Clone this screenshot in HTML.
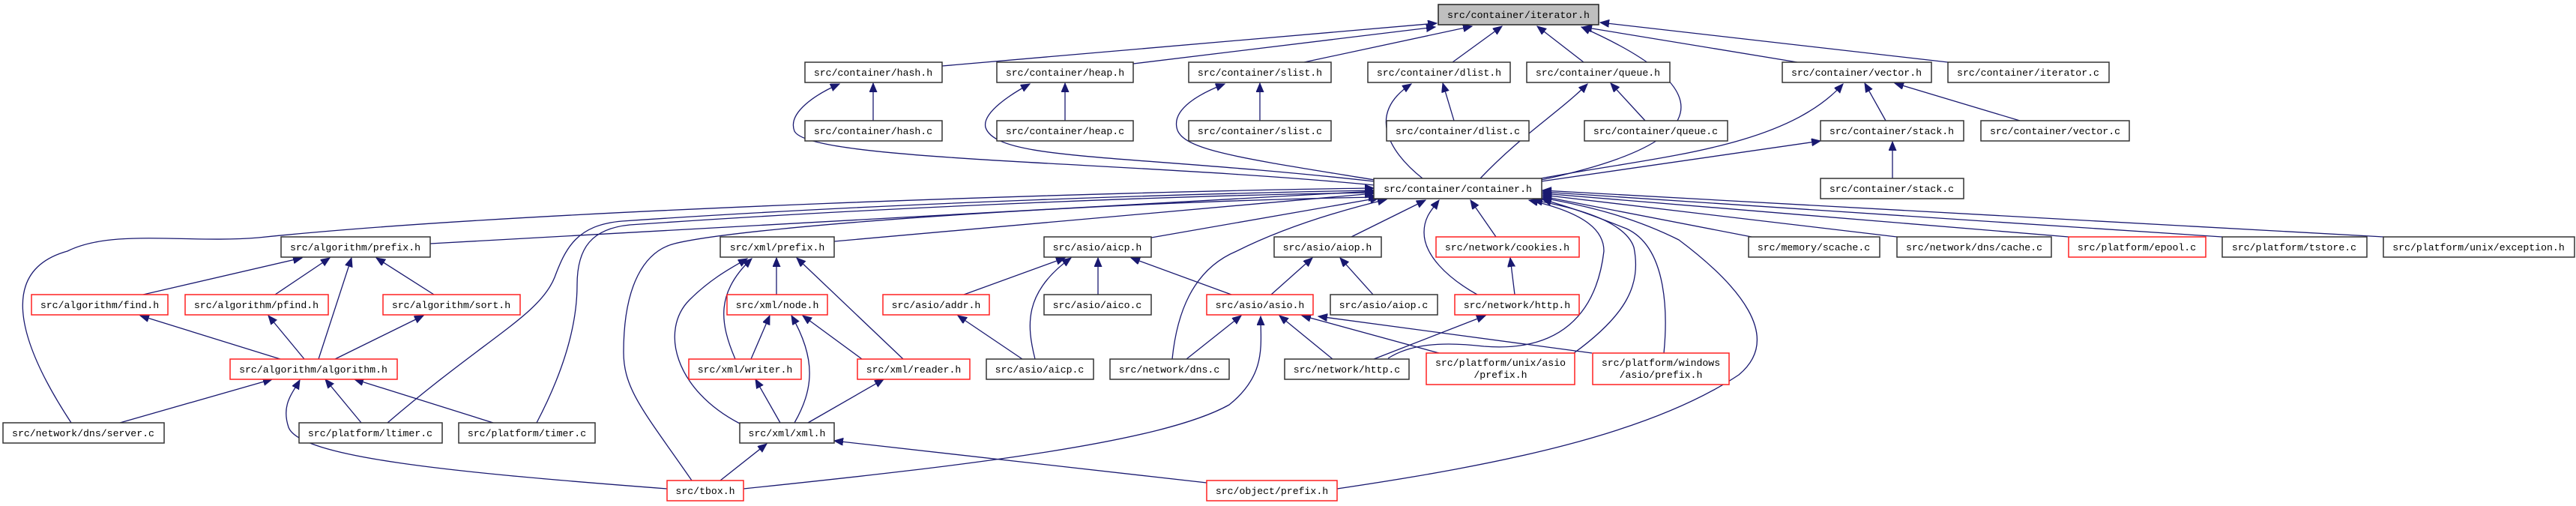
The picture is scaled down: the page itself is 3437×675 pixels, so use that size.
<!DOCTYPE html>
<html><head><meta charset="utf-8"><style>
html,body{margin:0;padding:0;background:#fff;}
svg{display:block;}
text{font-family:"Liberation Mono",monospace;font-size:13.2px;fill:#000;}
.b{fill:#fff;stroke:#333;stroke-width:1.5;}
.r{fill:#fff;stroke:#ff2020;stroke-width:1.5;}
.g{fill:#bfbfbf;stroke:#222;stroke-width:1.5;}
path{fill:none;stroke:#191970;stroke-width:1.3;}
</style></head><body>
<svg width="3437" height="675" viewBox="0 0 3437 675" xmlns="http://www.w3.org/2000/svg">
<defs><marker id="a" markerUnits="userSpaceOnUse" markerWidth="14" markerHeight="12" refX="12" refY="5" orient="auto"><path d="M0,0 L12,5 L0,10 Z" style="fill:#191970;stroke:#191970;stroke-width:1"/></marker></defs>
<g marker-end="url(#a)">
<!-- to iterator.h -->
<path d="M1257,88 L1917,31"/>
<path d="M1512,85 L1915,36"/>
<path d="M1740,83 L1964,35"/>
<path d="M1938,83 L2004,35"/>
<path d="M2113,83 L2051,35"/>
<path d="M2056,240 C2290,190 2300,120 2110,36"/>
<path d="M2398,83 L2112,36"/>
<path d="M2599,83 L2135,30"/>
<!-- row2 to row1 -->
<path d="M1165,161 L1165,111"/>
<path d="M1421,161 L1421,111"/>
<path d="M1681,161 L1681,111"/>
<path d="M1940,161 L1925,111"/>
<path d="M2195,161 L2149,111"/>
<path d="M2516,161 L2488,111"/>
<path d="M2695,161 L2528,111"/>
<path d="M2525,238 L2525,189"/>
<!-- container to row1 -->
<path d="M1834,247 C1500,215 1080,215 1060,175 C1050,150 1090,125 1120,112"/>
<path d="M1834,242 C1500,205 1330,215 1315,170 C1310,150 1350,125 1374,112"/>
<path d="M1834,240 C1650,210 1575,200 1570,170 C1565,145 1600,125 1634,112"/>
<path d="M1898,238 C1850,200 1825,150 1883,112"/>
<path d="M1975,238 C2030,180 2080,150 2118,112"/>
<path d="M2056,238 C2200,210 2380,200 2459,112"/>
<path d="M2056,242 C2250,215 2350,200 2429,188"/>
<!-- into container.h -->
<path d="M574,325 L1833,255"/>
<path d="M95,564 C20,450 0,360 90,335 C150,305 250,325 345,317 C700,280 1500,255 1833,251"/>
<path d="M517,564 C650,450 720,420 740,370 C755,330 770,300 830,295 C1200,270 1600,258 1833,254"/>
<path d="M716,564 C760,480 770,420 770,380 C770,330 790,305 840,300 C1200,275 1600,260 1833,257"/>
<path d="M923,641 C860,550 832,520 832,470 C832,380 860,335 900,325 C1000,300 1500,268 1838,263"/>
<path d="M1113,322 L1833,258"/>
<path d="M1536,317 L1840,264"/>
<path d="M1564,479 C1570,420 1590,360 1650,335 C1720,300 1800,278 1850,266"/>
<path d="M1803,316 L1902,267"/>
<path d="M1971,393 C1930,370 1900,340 1900,310 C1900,290 1910,280 1920,267"/>
<path d="M1996,316 L1962,267"/>
<path d="M1852,478 C1880,460 1920,455 1980,462 C2080,470 2130,420 2140,335 C2140,310 2120,285 2040,267"/>
<path d="M2100,471 C2170,420 2190,380 2180,330 C2170,300 2120,280 2046,267"/>
<path d="M2220,471 C2225,420 2225,330 2170,305 C2120,285 2090,275 2058,266"/>
<path d="M1784,652 C2000,620 2200,580 2320,500 C2380,450 2320,380 2240,320 C2180,290 2120,275 2058,264"/>
<path d="M2337,316 L2058,262"/>
<path d="M2531,316 L2058,260"/>
<path d="M2760,316 L2058,258"/>
<path d="M2965,316 L2058,256"/>
<path d="M3180,316 L2058,254"/>
<!-- algorithm -->
<path d="M191,393 L403,344"/>
<path d="M367,393 L440,344"/>
<path d="M579,393 L502,344"/>
<path d="M425,479 L469,344"/>
<path d="M374,479 L187,421"/>
<path d="M406,479 L358,421"/>
<path d="M447,479 L565,421"/>
<path d="M160,564 L363,506"/>
<path d="M482,564 L434,506"/>
<path d="M658,564 L473,506"/>
<path d="M890,652 C600,630 400,610 385,570 C375,540 390,525 400,507"/>
<!-- xml -->
<path d="M1036,393 L1036,344"/>
<path d="M981,479 C960,430 955,390 1003,345"/>
<path d="M1002,479 L1027,421"/>
<path d="M1205,479 L1063,344"/>
<path d="M1150,479 L1071,421"/>
<path d="M1041,564 L1008,506"/>
<path d="M1060,564 C1085,520 1090,480 1056,421"/>
<path d="M1078,564 L1179,506"/>
<path d="M987,565 C900,520 880,440 920,400 C950,370 980,355 997,345"/>
<path d="M961,641 L1023,592"/>
<path d="M1610,644 L1113,588"/>
<!-- asio -->
<path d="M1286,393 L1421,344"/>
<path d="M1465,393 L1465,344"/>
<path d="M1643,393 L1509,344"/>
<path d="M1381,479 C1370,435 1365,390 1429,344"/>
<path d="M1364,479 L1278,421"/>
<path d="M1583,479 L1656,421"/>
<path d="M1696,393 L1751,344"/>
<path d="M1832,393 L1788,344"/>
<path d="M2021,393 L2015,344"/>
<path d="M1778,479 L1707,421"/>
<path d="M1833,479 L1982,421"/>
<path d="M1920,471 L1737,421"/>
<path d="M2124,471 L1759,422"/>
<path d="M992,652 C1300,620 1550,590 1640,540 C1690,500 1682,460 1682,422"/>
</g>
<!-- nodes -->
<g>
<rect class="g" x="1919" y="6" width="214" height="27"/><text x="2026" y="24" text-anchor="middle">src/container/iterator.h</text>
<rect class="b" x="1074" y="83" width="183" height="27"/><text x="1165" y="101" text-anchor="middle">src/container/hash.h</text>
<rect class="b" x="1330" y="83" width="182" height="27"/><text x="1421" y="101" text-anchor="middle">src/container/heap.h</text>
<rect class="b" x="1586" y="83" width="190" height="27"/><text x="1681" y="101" text-anchor="middle">src/container/slist.h</text>
<rect class="b" x="1825" y="83" width="190" height="27"/><text x="1920" y="101" text-anchor="middle">src/container/dlist.h</text>
<rect class="b" x="2037" y="83" width="191" height="27"/><text x="2132" y="101" text-anchor="middle">src/container/queue.h</text>
<rect class="b" x="2378" y="83" width="199" height="27"/><text x="2477" y="101" text-anchor="middle">src/container/vector.h</text>
<rect class="b" x="2599" y="83" width="215" height="27"/><text x="2706" y="101" text-anchor="middle">src/container/iterator.c</text>
<rect class="b" x="1074" y="161" width="183" height="27"/><text x="1165" y="179" text-anchor="middle">src/container/hash.c</text>
<rect class="b" x="1330" y="161" width="182" height="27"/><text x="1421" y="179" text-anchor="middle">src/container/heap.c</text>
<rect class="b" x="1586" y="161" width="190" height="27"/><text x="1681" y="179" text-anchor="middle">src/container/slist.c</text>
<rect class="b" x="1850" y="161" width="190" height="27"/><text x="1945" y="179" text-anchor="middle">src/container/dlist.c</text>
<rect class="b" x="2114" y="161" width="191" height="27"/><text x="2209" y="179" text-anchor="middle">src/container/queue.c</text>
<rect class="b" x="2429" y="161" width="191" height="27"/><text x="2524" y="179" text-anchor="middle">src/container/stack.h</text>
<rect class="b" x="2643" y="161" width="198" height="27"/><text x="2742" y="179" text-anchor="middle">src/container/vector.c</text>
<rect class="b" x="1833" y="238" width="224" height="27"/><text x="1945" y="256" text-anchor="middle">src/container/container.h</text>
<rect class="b" x="2429" y="238" width="191" height="27"/><text x="2524" y="256" text-anchor="middle">src/container/stack.c</text>
<rect class="b" x="375" y="316" width="199" height="27"/><text x="474" y="334" text-anchor="middle">src/algorithm/prefix.h</text>
<rect class="b" x="961" y="316" width="152" height="27"/><text x="1037" y="334" text-anchor="middle">src/xml/prefix.h</text>
<rect class="b" x="1393" y="316" width="143" height="27"/><text x="1464" y="334" text-anchor="middle">src/asio/aicp.h</text>
<rect class="b" x="1700" y="316" width="143" height="27"/><text x="1771" y="334" text-anchor="middle">src/asio/aiop.h</text>
<rect class="r" x="1916" y="316" width="191" height="27"/><text x="2011" y="334" text-anchor="middle">src/network/cookies.h</text>
<rect class="b" x="2333" y="316" width="175" height="27"/><text x="2420" y="334" text-anchor="middle">src/memory/scache.c</text>
<rect class="b" x="2531" y="316" width="206" height="27"/><text x="2634" y="334" text-anchor="middle">src/network/dns/cache.c</text>
<rect class="r" x="2760" y="316" width="183" height="27"/><text x="2851" y="334" text-anchor="middle">src/platform/epool.c</text>
<rect class="b" x="2965" y="316" width="193" height="27"/><text x="3061" y="334" text-anchor="middle">src/platform/tstore.c</text>
<rect class="b" x="3180" y="316" width="255" height="27"/><text x="3307" y="334" text-anchor="middle">src/platform/unix/exception.h</text>
<rect class="r" x="42" y="393" width="182" height="27"/><text x="133" y="411" text-anchor="middle">src/algorithm/find.h</text>
<rect class="r" x="247" y="393" width="191" height="27"/><text x="342" y="411" text-anchor="middle">src/algorithm/pfind.h</text>
<rect class="r" x="511" y="393" width="183" height="27"/><text x="602" y="411" text-anchor="middle">src/algorithm/sort.h</text>
<rect class="r" x="970" y="393" width="134" height="27"/><text x="1037" y="411" text-anchor="middle">src/xml/node.h</text>
<rect class="r" x="1178" y="393" width="142" height="27"/><text x="1249" y="411" text-anchor="middle">src/asio/addr.h</text>
<rect class="b" x="1393" y="393" width="143" height="27"/><text x="1464" y="411" text-anchor="middle">src/asio/aico.c</text>
<rect class="r" x="1610" y="393" width="142" height="27"/><text x="1681" y="411" text-anchor="middle">src/asio/asio.h</text>
<rect class="b" x="1775" y="393" width="143" height="27"/><text x="1846" y="411" text-anchor="middle">src/asio/aiop.c</text>
<rect class="r" x="1941" y="393" width="166" height="27"/><text x="2024" y="411" text-anchor="middle">src/network/http.h</text>
<rect class="r" x="307" y="479" width="223" height="27"/><text x="418" y="497" text-anchor="middle">src/algorithm/algorithm.h</text>
<rect class="r" x="919" y="479" width="150" height="27"/><text x="994" y="497" text-anchor="middle">src/xml/writer.h</text>
<rect class="r" x="1144" y="479" width="150" height="27"/><text x="1219" y="497" text-anchor="middle">src/xml/reader.h</text>
<rect class="b" x="1316" y="479" width="143" height="27"/><text x="1387" y="497" text-anchor="middle">src/asio/aicp.c</text>
<rect class="b" x="1481" y="479" width="159" height="27"/><text x="1560" y="497" text-anchor="middle">src/network/dns.c</text>
<rect class="b" x="1714" y="479" width="166" height="27"/><text x="1797" y="497" text-anchor="middle">src/network/http.c</text>
<rect class="r" x="1903" y="471" width="198" height="42"/><text x="2002" y="488" text-anchor="middle">src/platform/unix/asio</text><text x="2002" y="504" text-anchor="middle">/prefix.h</text>
<rect class="r" x="2125" y="471" width="182" height="42"/><text x="2216" y="488" text-anchor="middle">src/platform/windows</text><text x="2216" y="504" text-anchor="middle">/asio/prefix.h</text>
<rect class="b" x="4" y="564" width="215" height="27"/><text x="111" y="582" text-anchor="middle">src/network/dns/server.c</text>
<rect class="b" x="399" y="564" width="191" height="27"/><text x="494" y="582" text-anchor="middle">src/platform/ltimer.c</text>
<rect class="b" x="612" y="564" width="182" height="27"/><text x="703" y="582" text-anchor="middle">src/platform/timer.c</text>
<rect class="b" x="987" y="564" width="126" height="27"/><text x="1050" y="582" text-anchor="middle">src/xml/xml.h</text>
<rect class="r" x="890" y="641" width="102" height="27"/><text x="941" y="659" text-anchor="middle">src/tbox.h</text>
<rect class="r" x="1610" y="641" width="174" height="27"/><text x="1697" y="659" text-anchor="middle">src/object/prefix.h</text>
</g>
</svg>
</body></html>
